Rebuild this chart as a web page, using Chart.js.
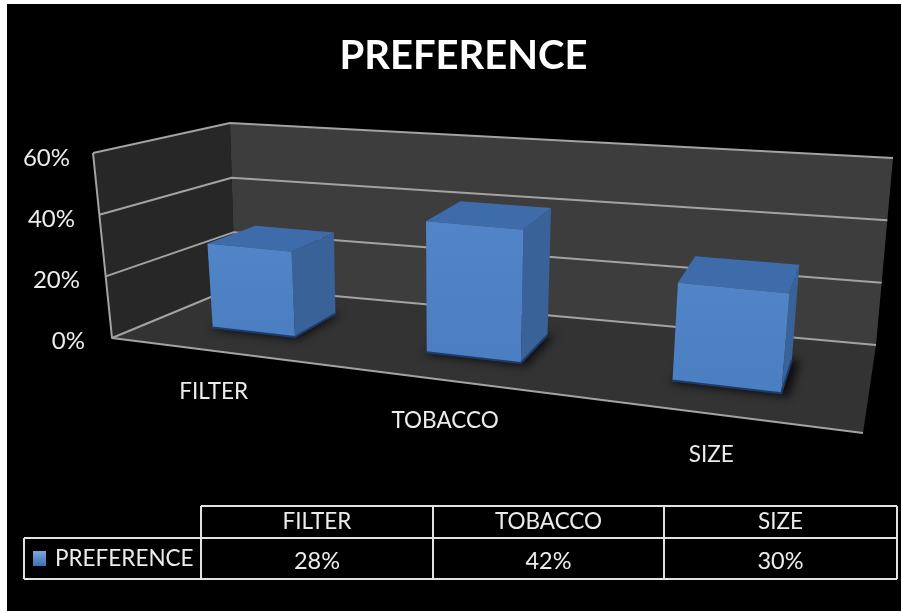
<!DOCTYPE html>
<html>
<head>
<meta charset="utf-8">
<title>PREFERENCE</title>
<script src="https://cdn.jsdelivr.net/npm/chart.js@4/dist/chart.umd.min.js"></script>
<style>
    html, body { margin: 0; padding: 0; background: #fff; }
    canvas { display: block; }
</style>
</head>
<body>
<canvas id="preferenceChart" width="901" height="611"></canvas>
<script>
const seriesName = "PREFERENCE";
const categories = ["FILTER", "TOBACCO", "SIZE"];
const preferenceValues = [28, 42, 30];
const axisMax = 60;
const axisStep = 20;

const fontFamily = "Lato, 'Open Sans', sans-serif";

// box corners on screen: f = front, b = back, l/r = left/right, 0/1 = floor/top
const box = {
    fl0: [112, 338], fr0: [863, 433], bl0: [235, 287], br0: [876, 345],
    fl1: [93, 153], fr1: [885, 223], bl1: [230, 123], br1: [893, 158]
};
const rightSideScale = 0.81; // right side sits nearer the viewer
const barDepthFront = 0.34;
const barDepthBack = 0.74;

const mix = (a, b, t) => [a[0] + (b[0] - a[0]) * t, a[1] + (b[1] - a[1]) * t];

// u across, v up, d into the screen, all 0..1
const project = function (u, v, d) {
    const s = u * rightSideScale / ((1 - u) + u * rightSideScale);
    const floor = mix(mix(box.fl0, box.fr0, s), mix(box.bl0, box.br0, s), d);
    const top = mix(mix(box.fl1, box.fr1, s), mix(box.bl1, box.br1, s), d);
    return mix(floor, top, v);
};

const polygon = function (ctx, points, fill) {
    ctx.beginPath();
    points.forEach((p, i) => i ? ctx.lineTo(p[0], p[1]) : ctx.moveTo(p[0], p[1]));
    ctx.closePath();
    ctx.fillStyle = fill;
    ctx.fill();
};

const line = function (ctx, points, color, width) {
    ctx.beginPath();
    points.forEach((p, i) => i ? ctx.lineTo(p[0], p[1]) : ctx.moveTo(p[0], p[1]));
    ctx.strokeStyle = color;
    ctx.lineWidth = width;
    ctx.stroke();
};

const text = function (ctx, str, x, y, size, align) {
    ctx.font = size + "px " + fontFamily;
    ctx.fillStyle = "#ececec";
    ctx.textAlign = align || "center";
    ctx.textBaseline = "middle";
    ctx.fillText(str, x, y);
};

const backdrop = {
    id: "backdrop",
    beforeDraw(chart) {
        const ctx = chart.ctx;
        ctx.save();
        ctx.fillStyle = "#fff";
        ctx.fillRect(0, 0, chart.width, chart.height);
        ctx.fillStyle = "#000";
        ctx.fillRect(7, 4, chart.width - 7, chart.height - 4);
        ctx.restore();
    }
};

const walls = {
    id: "walls",
    beforeDatasetsDraw(chart) {
        const ctx = chart.ctx;
        const area = chart.chartArea;
        const yScale = chart.scales.y;
        ctx.save();
        ctx.lineJoin = "round";
        polygon(ctx, [project(0, 0, 0), project(0, 0, 1), project(0, 1, 1), project(0, 1, 0)], "#272727");
        polygon(ctx, [project(0, 0, 1), project(1, 0, 1), project(1, 1, 1), project(0, 1, 1)], "#3d3d3d");
        polygon(ctx, [project(0, 0, 0), project(1, 0, 0), project(1, 0, 1), project(0, 0, 1)], "#333333");

        yScale.ticks.forEach(function (tick) {
            const v = (area.bottom - yScale.getPixelForValue(tick.value)) / area.height;
            line(ctx, [project(0, v, 0), project(0, v, 1), project(1, v, 1)], "#a3a3a3", 2);
        });
        line(ctx, [project(0, 1, 0), project(0, 0, 0), project(1, 0, 0)], "#a3a3a3", 2);
        ctx.restore();
    }
};

const bars3d = {
    id: "bars3d",
    afterDatasetsDraw(chart) {
        const ctx = chart.ctx;
        const area = chart.chartArea;
        ctx.save();
        ctx.lineJoin = "round";
        chart.getDatasetMeta(0).data.forEach(function (bar) {
            const props = bar.getProps(["x", "y", "base", "width"], true);
            const u0 = (props.x - props.width / 2 - area.left) / area.width;
            const u1 = (props.x + props.width / 2 - area.left) / area.width;
            const v = (props.base - props.y) / area.height;
            const df = barDepthFront, db = barDepthBack;

            // soft shadow on the floor
            ctx.save();
            ctx.filter = "blur(5px)";
            polygon(ctx, [project(u0, 0, df - 0.03), project(u1 + 0.01, 0, df - 0.03), project(u1 + 0.01, 0, db), project(u0, 0, db)], "#0d0d0d");
            ctx.restore();

            polygon(ctx, [project(u0, v, df), project(u1, v, df), project(u1, v, db), project(u0, v, db)], "#3e6cab");
            polygon(ctx, [project(u1, 0, df), project(u1, 0, db), project(u1, v, db), project(u1, v, df)], "#386298");

            const topLeft = project(u0, v, df);
            const bottomLeft = project(u0, 0, df);
            const shade = ctx.createLinearGradient(0, topLeft[1], 0, bottomLeft[1]);
            shade.addColorStop(0, "#5285c7");
            shade.addColorStop(1, "#4c7fc2");
            polygon(ctx, [topLeft, project(u1, v, df), project(u1, 0, df), bottomLeft], shade);
            line(ctx, [bottomLeft, project(u1, 0, df), project(u1, 0, db)], "#1d3c6e", 2);
        });
        ctx.restore();
    }
};

const axisText = {
    id: "axisText",
    afterDatasetsDraw(chart) {
        const ctx = chart.ctx;
        const area = chart.chartArea;
        const xScale = chart.scales.x;
        const yScale = chart.scales.y;
        ctx.save();
        yScale.ticks.forEach(function (tick) {
            const v = (area.bottom - yScale.getPixelForValue(tick.value)) / area.height;
            const at = mix([85, 341], [70, 158], v);
            text(ctx, tick.label, at[0], at[1], 24, "right");
        });
        categories.forEach(function (name, i) {
            const u = (xScale.getPixelForValue(i) - area.left) / area.width;
            const at = project(u, 0, 0);
            text(ctx, name, at[0] - 3, at[1] + 40.5, 22.5);
        });
        ctx.restore();
    }
};

// data table under the plot, with the legend key in its first column
const dataTable = {
    id: "dataTable",
    afterDatasetsDraw(chart) {
        const ctx = chart.ctx;
        const columns = [201, 433, 664, 897];
        const left = 24, top = 506, middle = 538, bottom = 579;
        const color = "#e2e2e2";
        ctx.save();
        line(ctx, [[left, middle], [897, middle]], color, 2);
        line(ctx, [[left, bottom], [897, bottom]], color, 2);
        line(ctx, [[201, top], [897, top]], color, 2);
        line(ctx, [[left, middle], [left, bottom]], color, 2);
        columns.forEach(x => line(ctx, [[x, top], [x, bottom]], color, 2));

        const key = ctx.createLinearGradient(0, 551, 0, 566);
        key.addColorStop(0, "#7aa7de");
        key.addColorStop(1, "#3c70b4");
        ctx.fillStyle = key;
        ctx.fillRect(33, 551, 13, 15);
        text(ctx, seriesName, 55, 559, 22.5, "left");

        categories.forEach(function (name, i) {
            const x = (columns[i] + columns[i + 1]) / 2;
            text(ctx, name, x, 522, 22.5);
            text(ctx, preferenceValues[i] + "%", x, 561, 23.5);
        });
        ctx.restore();
    }
};

new Chart("preferenceChart", {
    type: "bar",
    data: {
        labels: categories,
        datasets: [{
            label: seriesName,
            data: preferenceValues,
            backgroundColor: "transparent",
            barPercentage: 0.4,
            categoryPercentage: 1
        }]
    },
    options: {
        responsive: false,
        animation: false,
        layout: { padding: { left: 26 } },
        plugins: {
            legend: { display: false },
            tooltip: { enabled: false },
            title: {
                display: true,
                text: seriesName,
                color: "#ffffff",
                font: { family: fontFamily, size: 40, weight: "bold" },
                padding: { top: 32, bottom: 10 }
            }
        },
        scales: {
            x: {
                grid: { display: false },
                border: { display: false },
                ticks: { display: false }
            },
            y: {
                min: 0,
                max: axisMax,
                grid: { display: false },
                border: { display: false },
                ticks: { display: false, stepSize: axisStep, callback: value => value + "%" }
            }
        }
    },
    plugins: [backdrop, walls, bars3d, axisText, dataTable]
});
</script>
</body>
</html>
